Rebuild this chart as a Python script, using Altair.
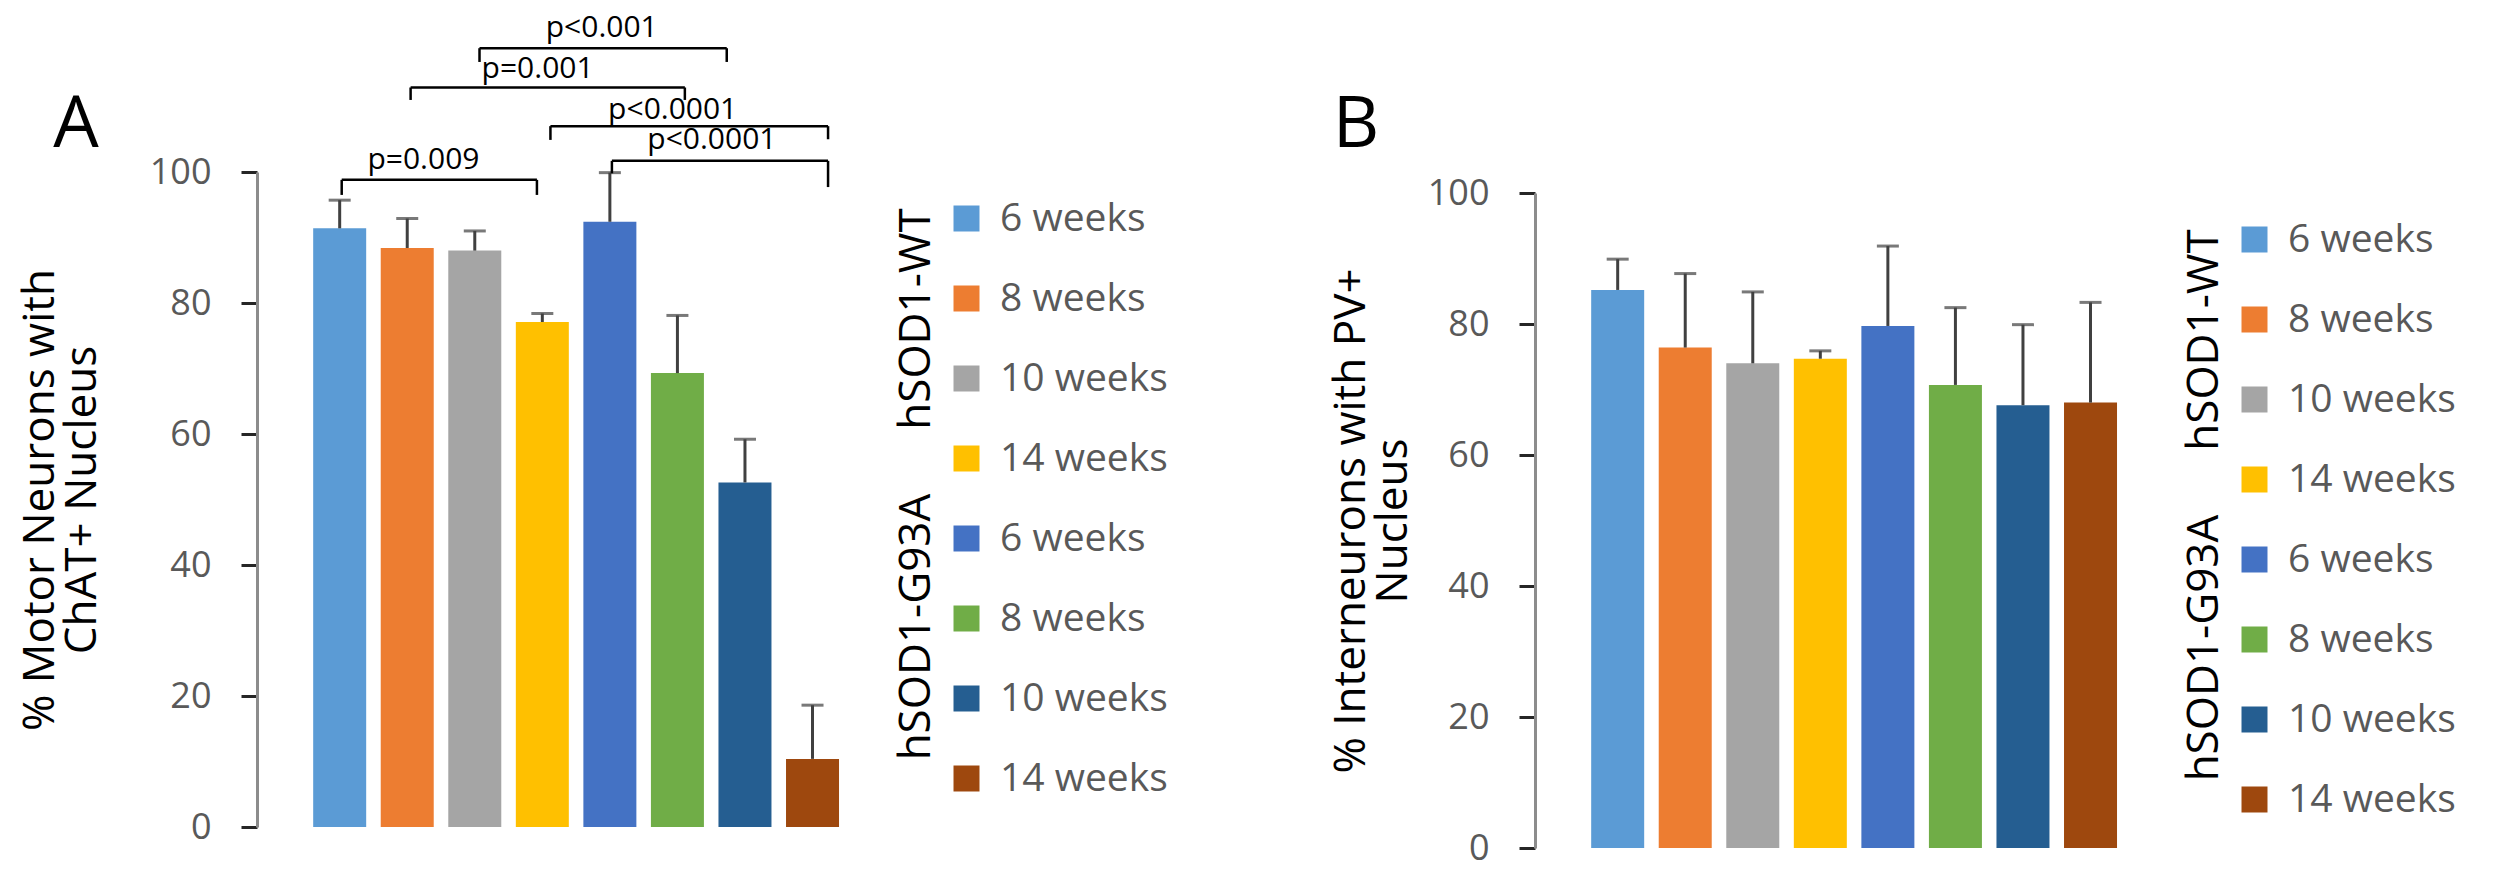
import altair as alt
import pandas as pd

weeks = ["6 weeks", "8 weeks", "10 weeks", "14 weeks"]
groups = ["hSOD1-WT", "hSOD1-G93A"]
keys = [f"{g}|{w}" for g in groups for w in weeks]
colors = ["#5B9BD5", "#ED7D31", "#A5A5A5", "#FFC000",
          "#4472C4", "#70AD47", "#255E91", "#9E480E"]

# Panel A: % motor neurons with ChAT+ nucleus (mean, top of error bar)
a_mean = [91.4, 88.4, 88.0, 77.1, 92.4, 69.3, 52.6, 10.4]
a_upper = [95.7, 92.9, 91.0, 78.4, 99.9, 78.1, 59.2, 18.6]
# Panel B: % interneurons with PV+ nucleus
b_mean = [85.2, 76.4, 74.0, 74.7, 79.7, 70.7, 67.6, 68.0]
b_upper = [89.9, 87.7, 84.9, 75.9, 91.9, 82.5, 79.9, 83.3]

# significance brackets in panel A (bar index / y value)
br_label = ["p=0.009", "p<0.0001", "p<0.0001", "p=0.001", "p<0.001"]
br_x1 = [0.03, 4.03, 3.12, 1.05, 2.07]
br_x2 = [2.92, 7.23, 7.23, 5.11, 5.73]
br_y = [98.8, 101.7, 107.0, 112.9, 118.9]
br_y1 = [96.5, 99.8, 104.9, 111.0, 116.8]
br_y2 = [96.5, 97.7, 105.0, 111.0, 116.8]
br_tx = [1.24, 5.51, 4.93, 2.93, 3.88]
br_ty = [101.8, 104.9, 109.5, 115.8, 122.0]

yticks = [0, 20, 40, 60, 80, 100]

FONT = "Open Sans"
W = 720
X0 = -1.15
X1 = X0 + W / 68.5


def make_panel(means, uppers, title_lines, title_pad, legend_x, letter, letter_x,
               top, h, with_brackets):
    df = pd.DataFrame({"idx": list(range(8)), "mean": means, "upper": uppers, "key": keys})
    xs = alt.Scale(domain=[X0, X1], nice=False, zero=False)
    ys = alt.Scale(domain=[0, 100], range=[h, top], nice=False, zero=True)
    yaxis = alt.Axis(values=yticks, title=title_lines, grid=False,
                     labelFont=FONT, labelFontSize=36, labelColor="#595959",
                     labelPadding=30, tickSize=16, tickColor="#262626", tickWidth=3,
                     domainColor="#8c8c8c", domainWidth=3,
                     titleFont=FONT, titleFontSize=44, titleFontWeight="normal",
                     titleColor="#000000", titleLineHeight=42, titlePadding=title_pad)
    bars = alt.Chart(df).mark_bar(size=53).encode(
        x=alt.X("idx:Q", scale=xs, axis=None),
        y=alt.Y("mean:Q", scale=ys, axis=yaxis),
        color=alt.Color("key:N", scale=alt.Scale(domain=keys, range=colors),
                        legend=alt.Legend(orient="none", legendX=legend_x,
                                          legendY=top + 27, title=None,
                                          labelExpr="split(datum.label, '|')[1]",
                                          symbolType="square", symbolSize=676,
                                          symbolStrokeWidth=0, labelFont=FONT,
                                          labelFontSize=39, labelColor="#595959",
                                          rowPadding=40, labelOffset=14, labelLimit=400)),
    )
    stems = alt.Chart(df).mark_rule(color="#404040", strokeWidth=3).encode(
        x=alt.X("idx:Q", scale=xs), y=alt.Y("mean:Q", scale=ys), y2="upper:Q")
    caps = alt.Chart(df).mark_tick(orient="horizontal", size=22, thickness=3,
                                   color="#404040").encode(
        x=alt.X("idx:Q", scale=xs), y=alt.Y("upper:Q", scale=ys))
    layers = [bars, stems, caps]

    if with_brackets:
        bdf = pd.DataFrame({"label": br_label, "x1": br_x1, "x2": br_x2, "y": br_y,
                            "y1": br_y1, "y2": br_y2, "tx": br_tx, "ty": br_ty})
        hline = alt.Chart(bdf).mark_rule(color="#000000", strokeWidth=2.5).encode(
            x=alt.X("x1:Q", scale=xs), x2="x2:Q", y=alt.Y("y:Q", scale=ys))
        lleg = alt.Chart(bdf).mark_rule(color="#000000", strokeWidth=2.5).encode(
            x=alt.X("x1:Q", scale=xs), y=alt.Y("y:Q", scale=ys), y2="y1:Q")
        rleg = alt.Chart(bdf).mark_rule(color="#000000", strokeWidth=2.5).encode(
            x=alt.X("x2:Q", scale=xs), y=alt.Y("y:Q", scale=ys), y2="y2:Q")
        txt = alt.Chart(bdf).mark_text(font=FONT, fontSize=30, color="#000000",
                                       baseline="middle").encode(
            x=alt.X("tx:Q", scale=xs), y=alt.Y("ty:Q", scale=ys), text="label:N")
        layers += [hline, lleg, rleg, txt]

    for gi, g in enumerate(groups):
        gdf = pd.DataFrame({"g": [g]})
        layers.append(alt.Chart(gdf).mark_text(font=FONT, fontSize=44, color="#000000",
                                               angle=270, align="center",
                                               baseline="middle").encode(
            text="g:N", x=alt.value(legend_x - 30), y=alt.value(top + 147 + 308 * gi)))

    ldf = pd.DataFrame({"t": [letter]})
    layers.append(alt.Chart(ldf).mark_text(font=FONT, fontSize=72, color="#000000",
                                           align="center", baseline="alphabetic").encode(
        text="t:N", x=alt.value(letter_x), y=alt.value(-25)))

    return alt.layer(*layers).properties(width=W, height=h).resolve_scale(color="independent")


panel_a = make_panel(a_mean, a_upper, ["% Motor Neurons  with", "ChAT+ Nucleus"], 45, 690,
                     "A", -181, 0, 655, True)
panel_b = make_panel(b_mean, b_upper, ["% Interneurons with PV+", "Nucleus"], 12, 700,
                     "B", -179, 21, 676, False)

chart = alt.hconcat(panel_a, panel_b, spacing=161).resolve_scale(
    color="independent").resolve_legend(color="independent").configure_view(
    stroke=None).properties(padding={"left": 10, "top": 4, "right": 0, "bottom": 0})

chart.save("out.html", embed_options={"renderer": "svg", "actions": False})
